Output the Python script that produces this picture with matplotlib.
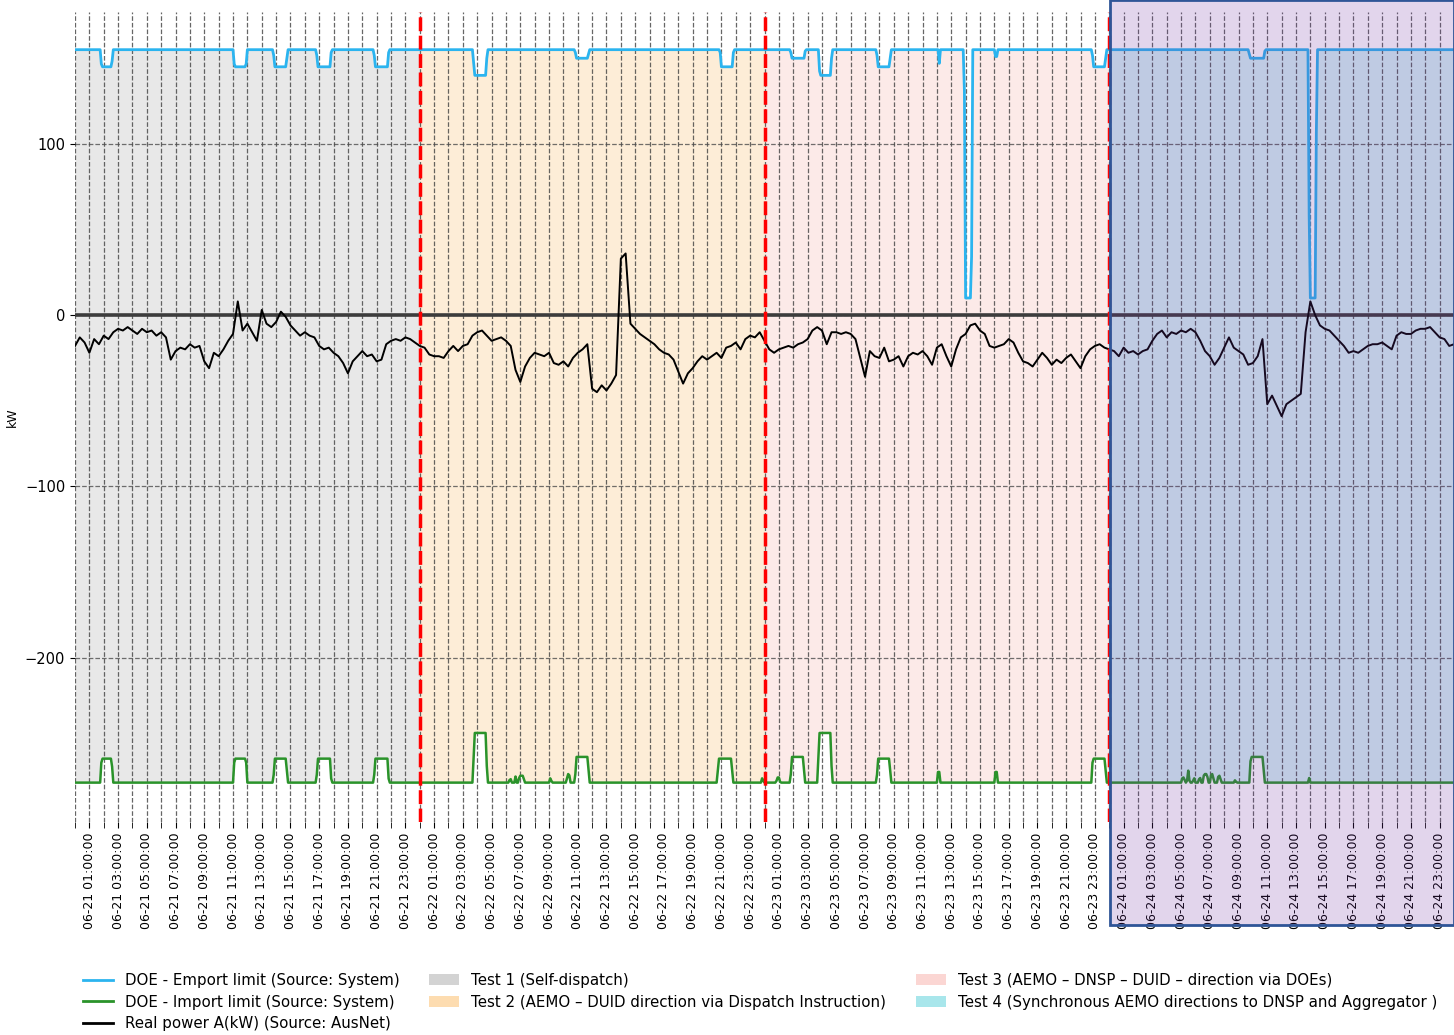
import numpy as np
import matplotlib
matplotlib.use("Agg")
import matplotlib.pyplot as plt
import matplotlib.dates as mdates
from matplotlib.lines import Line2D
from matplotlib.patches import Patch, Rectangle
from datetime import datetime

########################################################
# dados (tempo em horas desde 06-21 00:00)

export_base = 155
export_start = [1.75, 11.0, 13.8, 16.8, 20.8, 27.7, 34.8, 44.9, 49.8, 51.75, 55.8, 60.1, 61.9, 64.05, 70.8, 81.7, 85.85]
export_end = [2.65, 12.0, 14.8, 17.85, 21.85, 28.7, 35.8, 45.85, 50.85, 52.7, 56.8, 60.25, 62.5, 64.2, 71.8, 82.85, 86.45]
export_level = [145, 145, 145, 145, 145, 140, 150, 145, 150, 140, 145, 146, 10, 146, 145, 150, 10]

import_base = -273
import_start = [1.75, 11.0, 13.8, 16.8, 20.8,
                27.7, 30.2, 30.6, 30.85, 33.0, 34.2, 34.8, 44.7, 47.75,
                48.8, 49.8, 50.2, 51.7, 55.8, 60.05, 64.05, 70.75,
                77.0, 77.4, 77.8, 78.2, 78.5, 79.0, 79.5, 80.7, 81.75, 85.85]
import_end = [2.65, 12.0, 14.8, 17.85, 21.85,
              28.7, 30.4, 30.75, 31.3, 33.2, 34.5, 35.8, 45.8, 47.95,
              49.1, 50.8, 50.4, 52.7, 56.8, 60.2, 64.2, 71.8,
              77.3, 77.6, 78.0, 78.4, 78.9, 79.3, 79.8, 80.85, 82.8, 86.0]
import_level = [-259, -259, -259, -259, -259,
                -244, -270, -269, -269, -270, -268, -258, -259, -270,
                -270, -258, -252, -244, -259, -259, -259, -259,
                -270, -266, -270, -269, -268, -268, -269, -271, -258, -270]

# potência real, amostras a cada 20 min
power_dia1 = [-18, -13, -16, -22, -14, -17, -12, -14, -10, -8, -9, -7, -9, -11, -8, -10, -9, -12,
              -10, -13, -26, -21, -19, -20, -17, -19, -18, -27, -31, -22, -24, -20, -15, -11, 8, -9,
              -5, -10, -15, 3, -5, -7, -4, 2, -1, -6, -9, -12, -10, -12, -13, -18, -20, -19,
              -22, -24, -28, -34, -27, -24, -21, -24, -23, -27, -26, -17, -15, -14, -15, -13, -14, -16]
power_dia2 = [-18, -19, -23, -24, -24, -25, -21, -18, -21, -18, -17, -12, -10, -9, -12, -15, -14, -13,
              -15, -18, -32, -39, -30, -25, -22, -23, -24, -22, -28, -29, -27, -30, -25, -22, -20, -17,
              -43, -45, -41, -44, -40, -35, 33, 36, -5, -8, -11, -13, -15, -17, -20, -22, -23, -26,
              -33, -40, -34, -31, -27, -24, -26, -24, -22, -25, -19, -18, -16, -20, -14, -12, -13, -10]
power_dia3 = [-15, -20, -22, -20, -19, -18, -19, -17, -16, -14, -9, -7, -9, -17, -10, -10, -11, -10,
              -11, -14, -25, -36, -21, -24, -25, -19, -27, -26, -24, -30, -24, -22, -23, -21, -24, -29,
              -19, -17, -24, -30, -20, -13, -11, -6, -5, -9, -11, -18, -19, -18, -17, -14, -16, -22,
              -27, -28, -30, -26, -22, -25, -29, -26, -28, -25, -23, -27, -31, -24, -20, -18, -17, -19]
power_dia4 = [-20, -21, -24, -19, -22, -21, -23, -21, -20, -15, -11, -9, -13, -10, -11, -9, -10, -8,
              -10, -15, -21, -24, -29, -25, -19, -13, -19, -21, -23, -29, -28, -24, -14, -52, -47, -53,
              -59, -52, -50, -48, -46, -10, 8, 0, -6, -8, -9, -12, -15, -18, -22, -21, -22, -20,
              -18, -17, -17, -16, -18, -20, -12, -10, -11, -11, -9, -8, -8, -7, -10, -13, -14, -18, -17]

dias_teste = [0, 24, 48, 72, 96]
nomes_teste = [
    "Test 1 (Self-dispatch)",
    "Test 2 (AEMO \u2013 DUID direction via Dispatch Instruction)",
    "Test 3 (AEMO \u2013 DNSP \u2013 DUID \u2013 direction via DOEs)",
    "Test 4 (Synchronous AEMO directions to DNSP and Aggregator )",
]
cores_teste = ["#d3d3d3", "#fddcb0", "#fbd6d3", "#a8e6eb"]

########################################################
def serie_degrau(t, base, inicios, fins, niveis, combina):
    # monta a linha em degraus a partir da tabela de eventos
    y = np.full_like(t, base, dtype=float)
    for a, b, nv in zip(inicios, fins, niveis):
        r = min(0.1, (b - a) / 2)
        forma = np.interp(t, [a, a + r, b - r, b], [0, 1, 1, 0], left=0, right=0)
        y = combina(y, base + (nv - base) * forma)
    return y


t = np.arange(0, 96 * 12 + 1) / 12.0
exp_lim = serie_degrau(t, export_base, export_start, export_end, export_level, np.minimum)
imp_lim = serie_degrau(t, import_base, import_start, import_end, import_level, np.maximum)

power = np.array(power_dia1 + power_dia2 + power_dia3 + power_dia4, dtype=float)
t_power = np.arange(len(power)) / 3.0

t_ini = mdates.date2num(datetime(2023, 6, 21))
x = t_ini + t / 24
x_power = t_ini + t_power / 24

########################################################
fig = plt.figure(figsize=(14.54, 10.35), dpi=100)
ax = fig.add_axes([75 / 1454, 1 - 822 / 1035, 1 - 75 / 1454, (822 - 12) / 1035])

for i in range(4):
    mask = (t >= dias_teste[i]) & (t <= dias_teste[i + 1])
    ax.fill_between(x, imp_lim, exp_lim, where=mask, color=cores_teste[i],
                    alpha=0.5, linewidth=0, zorder=1)

ax.axhline(0, color="#3c3c3c", linewidth=2.6, zorder=1.8)
ax.plot(x, exp_lim, color="#2bb4ef", linewidth=2, zorder=3)
ax.plot(x, imp_lim, color="#2a932a", linewidth=1.8, zorder=3)
ax.plot(x_power, power, color="black", linewidth=1.4, zorder=3)

for d in dias_teste[1:4]:
    ax.axvline(t_ini + d / 24, color="red", linewidth=2.5, linestyle=(0, (4, 1.3)), zorder=4)

ax.set_xlim(t_ini, t_ini + 4)
ax.set_ylim(-296, 177)
ax.set_yticks([100, 0, -100, -200])
ax.set_ylabel("kW", fontsize=9)

ax.xaxis.set_major_locator(mdates.HourLocator(byhour=range(1, 24, 2)))
ax.xaxis.set_minor_locator(mdates.HourLocator(byhour=range(0, 24, 2)))
ax.xaxis.set_major_formatter(mdates.DateFormatter("%m-%d %H:%M:%S"))
ax.tick_params(axis="x", which="both", labelrotation=90, labelsize=9, length=4)
ax.tick_params(axis="y", labelsize=10.5)

ax.grid(True, which="both", axis="x", color="0.25", linestyle="--", linewidth=0.9, alpha=0.8)
ax.grid(True, which="major", axis="y", color="0.3", linestyle="--", linewidth=0.9, alpha=0.8)
for s in ax.spines.values():
    s.set_visible(False)

# legenda
handles = [
    Line2D([], [], color="#2bb4ef", linewidth=2, label="DOE - Emport limit (Source: System)"),
    Line2D([], [], color="#2a932a", linewidth=2, label="DOE - Import limit (Source: System)"),
    Line2D([], [], color="black", linewidth=2, label="Real power A(kW) (Source: AusNet)"),
]
for nome, cor in zip(nomes_teste, cores_teste):
    handles.append(Patch(facecolor=cor, edgecolor="none", label=nome))

fig.legend(handles=handles, ncol=3, loc="upper left", bbox_to_anchor=(0.0475, 0.073),
           frameon=False, fontsize=10.8, columnspacing=2.0, labelspacing=0.45,
           handlelength=2.0, handletextpad=0.8)

# moldura destacando o teste 4
fig.patches.append(Rectangle((1110 / 1454, 1 - 925 / 1035), 344 / 1454, 925 / 1035,
                             transform=fig.transFigure, facecolor=(0.44, 0.19, 0.63, 0.2),
                             edgecolor="#2f5597", linewidth=2, zorder=10))

fig.savefig("out.png", dpi=100)
